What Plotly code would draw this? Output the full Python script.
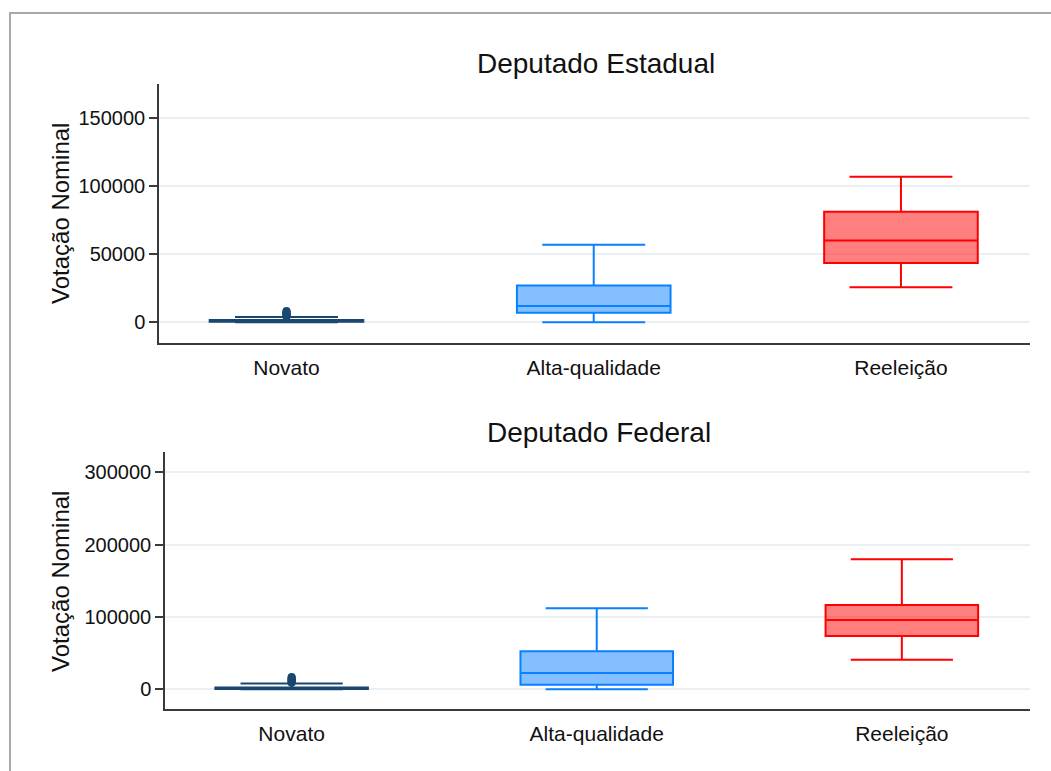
import plotly.graph_objects as go

W, H = 1051, 771

categories = ["Novato", "Alta-qualidade", "Reeleição"]

# Deputado Estadual: box statistics per category
est_lowerfence = [0, 0, 25700]
est_q1 = [300, 7000, 43600]
est_median = [800, 12000, 60000]
est_q3 = [1700, 27000, 81100]
est_upperfence = [3900, 57000, 106800]
est_novato_outliers = [4300, 4800, 5300, 5800, 6300, 6800, 7300, 7800, 8300]

# Deputado Federal: box statistics per category
fed_lowerfence = [0, 0, 40900]
fed_q1 = [400, 6400, 73700]
fed_median = [1200, 22500, 95800]
fed_q3 = [2600, 52500, 116500]
fed_upperfence = [8000, 112000, 179700]
fed_novato_outliers = [9000, 10000, 11000, 12000, 13000, 14000, 15000, 16000, 17000]

est_ticks = [0, 50000, 100000, 150000]
est_ticktext = ["0", "50000", "100000", "150000"]
fed_ticks = [0, 100000, 200000, 300000]
fed_ticktext = ["0", "100000", "200000", "300000"]

line_colors = ["#1a476f", "#0a80ff", "#ff0000"]
fill_colors = ["rgba(26,71,111,0.5)", "rgba(10,128,255,0.5)", "rgba(255,0,0,0.5)"]

FONT = "Arial, Liberation Sans, sans-serif"

fig = go.Figure()

panels = [
    ("x", "y", est_lowerfence, est_q1, est_median, est_q3, est_upperfence, est_novato_outliers),
    ("x2", "y2", fed_lowerfence, fed_q1, fed_median, fed_q3, fed_upperfence, fed_novato_outliers),
]

for xa, ya, lf, q1, med, q3, uf, outl in panels:
    for i, cat in enumerate(categories):
        fig.add_trace(go.Box(
            x=[cat], lowerfence=[lf[i]], q1=[q1[i]], median=[med[i]], q3=[q3[i]],
            upperfence=[uf[i]], width=0.5, whiskerwidth=0.67,
            line=dict(color=line_colors[i], width=2), fillcolor=fill_colors[i],
            boxpoints=False, showlegend=False, xaxis=xa, yaxis=ya,
        ))
    fig.add_trace(go.Scatter(
        x=[categories[0]] * len(outl), y=outl, mode="markers",
        marker=dict(color=line_colors[0], size=8, symbol="circle"),
        showlegend=False, xaxis=xa, yaxis=ya, hoverinfo="y",
    ))

axis_common = dict(
    showline=True, linecolor="#3a3a3a", linewidth=1.5, mirror=False,
    zeroline=False, tickfont=dict(family=FONT, size=20, color="#111111"),
)

xcommon = dict(axis_common, type="category", categoryorder="array", categoryarray=categories,
               range=[-0.415, 2.42], showgrid=False, ticks="outside", ticklen=5,
               tickcolor="rgba(0,0,0,0)", tickfont=dict(family=FONT, size=21, color="#111111"))
ycommon = dict(axis_common, showgrid=True, gridcolor="#e9eff2", gridwidth=1.5,
               ticks="outside", ticklen=8, tickwidth=1.5, tickcolor="#3a3a3a")

fig.update_layout(
    width=W, height=H,
    margin=dict(l=0, r=0, t=0, b=0),
    paper_bgcolor="white", plot_bgcolor="white",
    xaxis=dict(xcommon, domain=[159 / W, 1030 / W], anchor="y"),
    yaxis=dict(ycommon, domain=[1 - 342.7 / H, 1 - 84 / H], anchor="x",
               range=[-15000, 175000], tickvals=est_ticks, ticktext=est_ticktext),
    xaxis2=dict(xcommon, domain=[165 / W, 1030 / W], anchor="y2"),
    yaxis2=dict(ycommon, domain=[1 - 709.3 / H, 1 - 451.7 / H], anchor="x2",
                range=[-27650, 328500], tickvals=fed_ticks, ticktext=fed_ticktext),
    annotations=[
        dict(text="Deputado Estadual", x=596 / W, y=1 - 63 / H, xref="paper", yref="paper",
             xanchor="center", yanchor="middle", showarrow=False,
             font=dict(family=FONT, size=28, color="#111111")),
        dict(text="Deputado Federal", x=599 / W, y=1 - 432 / H, xref="paper", yref="paper",
             xanchor="center", yanchor="middle", showarrow=False,
             font=dict(family=FONT, size=28, color="#111111")),
        dict(text="Votação Nominal", x=60 / W, y=1 - 214 / H, xref="paper", yref="paper",
             xanchor="center", yanchor="middle", showarrow=False, textangle=-90,
             font=dict(family=FONT, size=24, color="#111111")),
        dict(text="Votação Nominal", x=60 / W, y=1 - 582 / H, xref="paper", yref="paper",
             xanchor="center", yanchor="middle", showarrow=False, textangle=-90,
             font=dict(family=FONT, size=24, color="#111111")),
    ],
    shapes=[
        dict(type="rect", xref="paper", yref="paper", x0=10 / W, x1=1.02, y0=-0.02, y1=1 - 13 / H,
             line=dict(color="#a9a9a9", width=2), fillcolor="rgba(0,0,0,0)", layer="below"),
    ],
)

fig.write_html("out.html")
